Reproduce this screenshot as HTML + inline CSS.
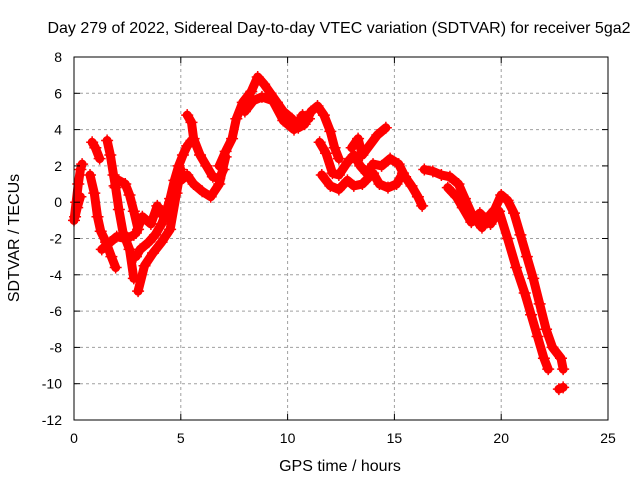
<!DOCTYPE html>
<html><head><meta charset="utf-8"><style>
body{margin:0;background:#fff}
svg{display:block;font-family:"Liberation Sans",sans-serif}
</style></head><body>
<svg id="c" width="640" height="480">
<rect width="640" height="480" fill="#fff"/>
<text x="339" y="33" font-size="16" text-anchor="middle">Day 279 of 2022, Sidereal Day-to-day VTEC variation (SDTVAR) for receiver 5ga2</text>
<text x="340" y="471" font-size="16" text-anchor="middle">GPS time / hours</text>
<text transform="translate(19,238) rotate(-90)" font-size="16" text-anchor="middle">SDTVAR / TECUs</text>
<g id="grid"></g><g id="data"></g><g id="axes"></g>
</svg>
<script>
const xTicks=[0,5,10,15,20,25];
const yTicks=[8,6,4,2,0,-2,-4,-6,-8,-10,-12];
const traceA=[[0,-1],[0.1,0],[0.2,1],[0.3,1.8],[0.38,2.1]];
const traceA2=[[0.05,-0.8],[0.15,-0.3],[0.3,0.3]];
const traceB=[[0.85,3.3],[1.0,3.0],[1.2,2.4]];
const traceB2=[[0.75,1.5],[0.95,0.5],[1.1,-0.8],[1.25,-1.6],[1.5,-2.2],[1.75,-3.0],[1.95,-3.6]];
const traceC=[[1.55,3.4],[1.7,2.6],[1.85,1.5],[1.95,0.8],[2.1,-0.4],[2.3,-1.7],[2.5,-2.0],[2.8,-1.8]];
const traceC2=[[1.9,0.9],[2.1,1.2],[2.4,1.0],[2.6,0.4],[2.8,-0.5],[3.0,-1.5]];
const traceD=[[1.3,-2.6],[1.7,-2.2],[2.0,-1.9],[2.4,-2.0],[2.6,-2.6],[2.8,-4.2]];
const traceE=[[2.9,-3.0],[3.1,-2.6],[3.5,-2.2],[3.8,-1.8],[4.1,-1.2],[4.3,-0.6],[4.5,0.2],[4.7,1.2],[4.9,2.0],[5.1,2.6],[5.3,3.1],[5.5,3.4]];
const traceE2=[[2.9,-1.7],[3.2,-0.8],[3.6,-1.2],[3.9,-0.2],[4.2,-0.8],[4.5,0]];
const traceF=[[3.0,-4.9],[3.3,-3.5],[3.7,-2.8],[4.1,-2.2],[4.5,-1.5],[4.8,0.5],[5.0,1.8]];
const traceG=[[5.3,4.8],[5.5,4.4],[5.6,3.5],[5.9,2.6],[6.2,2.0],[6.5,1.4],[6.8,1.3],[7.0,1.8]];
const traceG2=[[5.0,1.2],[5.3,1.5],[5.6,1.0],[6.0,0.6],[6.4,0.3],[6.8,1.0],[7.1,2.5]];
const traceH=[[6.8,2.0],[7.1,2.8],[7.4,3.5],[7.6,4.6],[7.9,5.5],[8.3,6.1],[8.6,6.9],[8.9,6.5],[9.2,6.0],[9.5,5.5],[9.8,5.0],[10.2,4.6],[10.5,4.1],[10.8,4.3],[11.1,5.0],[11.4,5.3],[11.7,4.8],[12.0,3.9],[12.2,3.0],[12.4,2.4]];
const traceH2=[[8.0,5.0],[8.4,5.6],[8.8,5.8],[9.3,5.6],[9.8,4.5],[10.3,4.0],[10.7,4.8],[11.0,4.6]];
const traceI=[[11.5,3.3],[11.8,2.7],[12.1,1.6],[12.4,1.5],[12.8,2.2],[13.1,2.6],[13.4,2.0],[13.7,1.6],[14.0,2.1],[14.4,2.0],[14.8,2.4],[15.2,2.1],[15.5,1.4],[15.8,0.9],[16.1,0.3],[16.3,-0.2]];
const traceI2=[[11.6,1.5],[12.0,0.9],[12.4,0.7],[12.8,1.2],[13.1,0.9],[13.5,1.0],[14.0,1.6],[14.3,1.0],[14.7,0.8],[15.1,1.0],[15.4,1.6]];
const traceI3=[[13.0,3.0],[13.3,3.5],[13.5,2.6],[14.2,3.7],[14.6,4.1]];
const traceJ=[[16.4,1.8],[16.8,1.7],[17.2,1.5],[17.6,1.4],[18.0,1.0],[18.3,0.2],[18.6,-0.6],[18.9,-1.1],[19.1,-1.4],[19.4,-0.8],[19.7,-0.4],[20.0,0.4],[20.3,0.1],[20.6,-0.6],[20.9,-1.8],[21.2,-3.0],[21.5,-4.2],[21.8,-5.6],[22.1,-7.0],[22.4,-8.0],[22.8,-8.6],[22.9,-9.2]];
const traceJ2=[[17.5,0.8],[17.9,0.3],[18.2,-0.3],[18.6,-1.1],[19.0,-0.6],[19.5,-1.2],[19.9,-0.5],[20.3,-2.0],[20.7,-3.6],[21.1,-5.0],[21.4,-6.2],[21.7,-7.4],[22.0,-8.6],[22.2,-9.2]];
const traceK=[[22.7,-10.3],[22.9,-10.2]];
const traces=[traceA,traceA2,traceB,traceB2,traceC,traceC2,traceD,traceE,traceE2,traceF,traceG,traceG2,traceH,traceH2,traceI,traceI2,traceI3,traceJ,traceJ2,traceK];
const X0=74,X1=608,Y0=57,Y1=420;
const sx=v=>X0+(v-0)/(25-0)*(X1-X0);
const sy=v=>Y0+(8-v)/(8+12)*(Y1-Y0);
const NS="http://www.w3.org/2000/svg";
function mk(t,a,p){const e=document.createElementNS(NS,t);for(const k in a)e.setAttribute(k,a[k]);p.appendChild(e);return e;}
const grid=document.getElementById('grid'),axes=document.getElementById('axes'),data=document.getElementById('data');
xTicks.forEach(t=>{const x=sx(t);
 if(t>0&&t<25){const l=mk('line',{x1:x,x2:x,y1:Y0,y2:Y1,stroke:'#a0a0a0','stroke-dasharray':'3,3'},grid);
 
 }
 mk('line',{x1:x,x2:x,y1:Y1,y2:Y1-6,stroke:'#000'},axes);mk('line',{x1:x,x2:x,y1:Y0,y2:Y0+6,stroke:'#000'},axes);
 const tx=mk('text',{x:x,y:Y1+23,'font-size':14,'text-anchor':'middle'},axes);tx.textContent=t;
 
 });
yTicks.forEach(t=>{const y=sy(t);
 if(t>-12&&t<8){const l=mk('line',{x1:X0,x2:X1,y1:y,y2:y,stroke:'#a0a0a0','stroke-dasharray':'3,3'},grid);
 
 }
 mk('line',{x1:X0,x2:X0+6,y1:y,y2:y,stroke:'#000'},axes);mk('line',{x1:X1,x2:X1-6,y1:y,y2:y,stroke:'#000'},axes);
 const tx=mk('text',{x:X0-12,y:y+5,'font-size':14,'text-anchor':'end'},axes);tx.textContent=t;
 
 });
const fr=mk('rect',{x:X0,y:Y0,width:X1-X0,height:Y1-Y0,fill:'none',stroke:'#000'},axes);


traces.forEach(tr=>{
 const g=mk('g',{},data);
 
 
 mk('polyline',{points:tr.map(p=>sx(p[0])+','+sy(p[1])).join(' '),fill:'none',stroke:'#f00','stroke-width':9,'stroke-linejoin':'round','stroke-linecap':'round'},g);
 tr.forEach(p=>{const x=sx(p[0]),y=sy(p[1]);
  const m=mk('path',{d:`M${x-6},${y}H${x+6}M${x},${y-6}V${y+6}`,stroke:'#f00','stroke-width':1.5},g);
  
  });
});
</script>
</body></html>
